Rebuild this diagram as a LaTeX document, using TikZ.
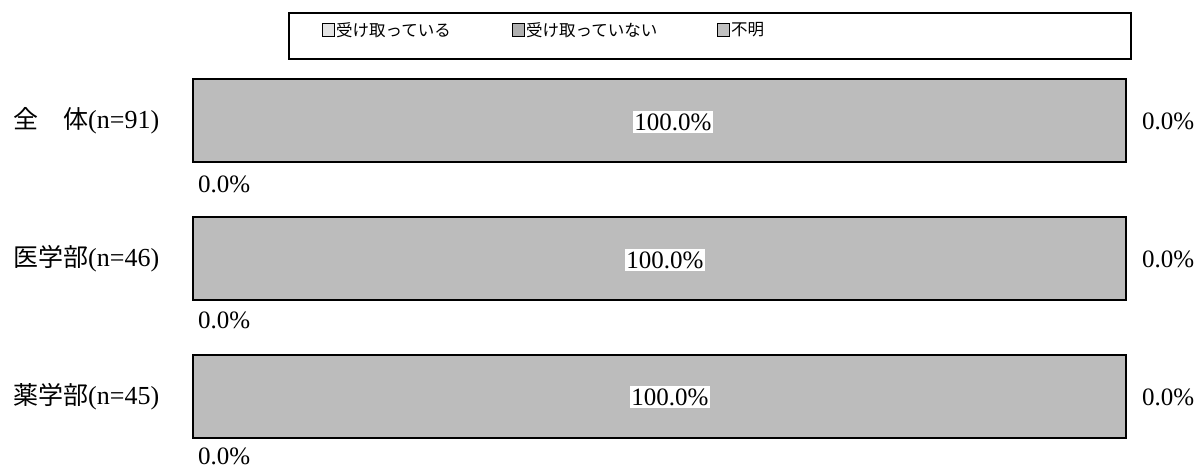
\documentclass[tikz,border=0pt]{standalone}
\usepackage{fontspec}
\setmainfont{Liberation Serif}
\newfontfamily\jp{Noto Sans CJK JP}
\definecolor{barfill}{RGB}{188,188,188}
\definecolor{sqa}{RGB}{228,228,228}
\definecolor{sqb}{RGB}{176,176,176}
\definecolor{sqc}{RGB}{192,192,192}
\tikzset{
  bar/.style={draw=black, line width=2pt, fill=barfill, inner sep=0pt, minimum width=933pt, minimum height=83pt},
  lbl/.style={anchor=west, inner sep=0pt, font=\fontsize{26}{30}\selectfont},
  pct/.style={inner sep=0pt, font=\fontsize{25}{30}\selectfont},
  inpct/.style={fill=white, inner xsep=1pt, inner ysep=3pt, font=\fontsize{25}{30}\selectfont},
  legbox/.style={draw=black, line width=2pt, inner sep=0pt, minimum width=842pt, minimum height=46pt},
  legsq/.style={draw=black, line width=1pt, inner sep=0pt, minimum width=12pt, minimum height=13pt},
  legtxt/.style={anchor=west, inner sep=0pt, font=\jp\fontsize{16.5}{19}\selectfont}
}
\begin{document}
\begin{tikzpicture}[x=1pt, y=-1pt]
\useasboundingbox (0,0) rectangle (1198,468);
% legend
\node[legbox] (leg) at (710,36) {};
\node[legsq, fill=sqa] (sq1) at (328.5,30) {};
\node[legtxt] (lt1) at (336,30) {受け取っている};
\node[legsq, fill=sqb] (sq2) at (518.5,30) {};
\node[legtxt] (lt2) at (526,30) {受け取っていない};
\node[legsq, fill=sqc] (sq3) at (723.5,30) {};
\node[legtxt] (lt3) at (731,30) {不明};
% bars
\node[bar] (b1) at (659.5,120.5) {};
\node[bar] (b2) at (659.5,258) {};
\node[bar] (b3) at (659.5,396.5) {};
% in-bar labels
\node[inpct] (p1) at (673,122) {100.0\%};
\node[inpct] (p2) at (665,260) {100.0\%};
\node[inpct] (p3) at (670,397) {100.0\%};
% row labels
\node[lbl] (l1) at (13,121) {{\jp\fontsize{25}{30}\selectfont 全　体}(n=91)};
\node[lbl] (l2) at (13,259) {{\jp\fontsize{25}{30}\selectfont 医学部}(n=46)};
\node[lbl] (l3) at (13,397) {{\jp\fontsize{25}{30}\selectfont 薬学部}(n=45)};
% right labels
\node[pct, anchor=west] (r1) at (1142,121) {0.0\%};
\node[pct, anchor=west] (r2) at (1142,259) {0.0\%};
\node[pct, anchor=west] (r3) at (1142,397) {0.0\%};
% bottom labels
\node[pct, anchor=west] (u1) at (198,184) {0.0\%};
\node[pct, anchor=west] (u2) at (198,320) {0.0\%};
\node[pct, anchor=west] (u3) at (198,456) {0.0\%};
\end{tikzpicture}
\end{document}
